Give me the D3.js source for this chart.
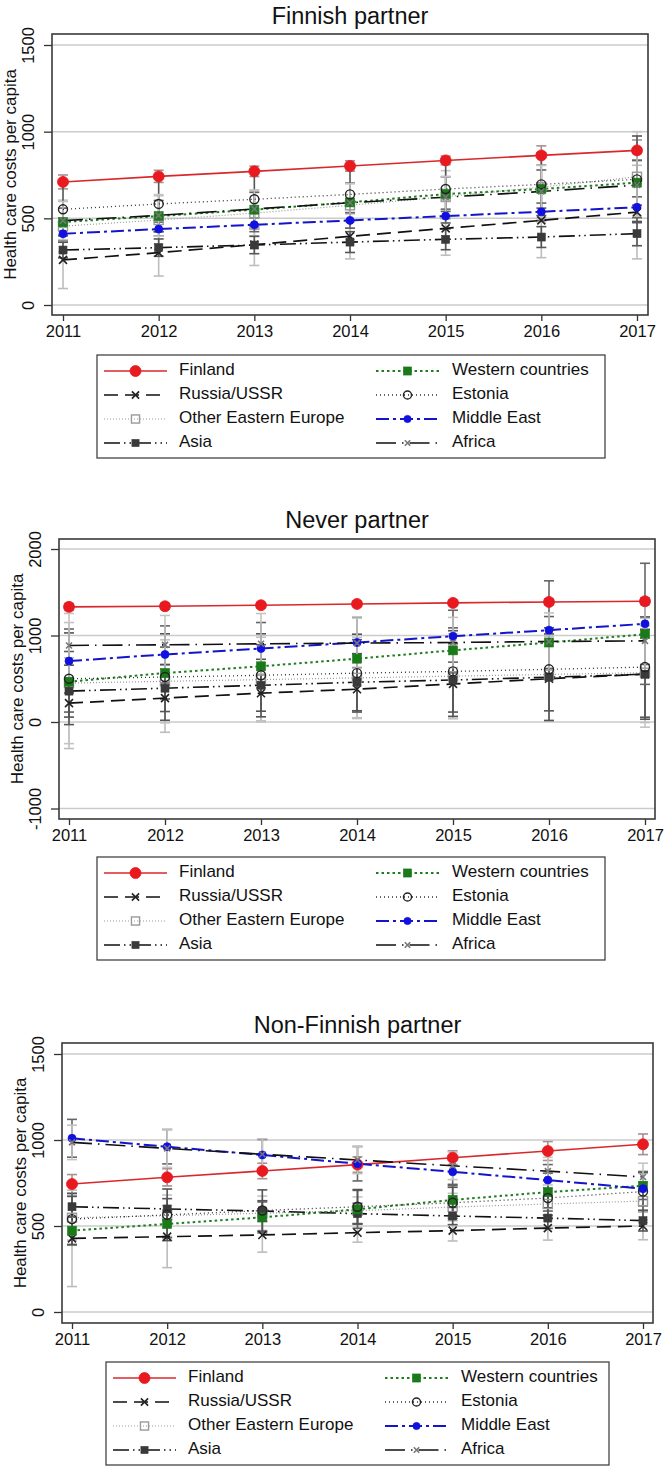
<!DOCTYPE html>
<html><head><meta charset="utf-8">
<script src="https://cdn.jsdelivr.net/npm/d3@7"></script>
<style>body{margin:0;background:#fff}svg{display:block}text{font-family:"Liberation Sans",Arial,Helvetica,sans-serif;fill:#111}</style>
</head><body><svg id="c" width="666" height="1468"></svg>
<script>
// ---------- DATA ----------
const years = [2011, 2012, 2013, 2014, 2015, 2016, 2017];
const seriesNames = ["Finland", "Russia/USSR", "Other Eastern Europe", "Asia", "Western countries", "Estonia", "Middle East", "Africa"];
const panelTitles = ["Finnish partner", "Never partner", "Non-Finnish partner"];
const yAxisTitle = "Health care costs per capita";
const yTicksP1 = [0, 500, 1000, 1500];
const yTicksP2 = [-1000, 0, 1000, 2000];
const yTicksP3 = [0, 500, 1000, 1500];

// Panel 1: Finnish partner (estimates)
const p1Finland   = [710, 742, 771, 802, 834, 863, 892];
const p1Russia    = [260, 302, 348, 396, 442, 488, 536];
const p1OEE       = [455, 490, 530, 575, 625, 680, 740];
const p1Asia      = [317, 331, 346, 363, 379, 392, 412];
const p1Western   = [479, 513, 550, 592, 640, 669, 706];
const p1Estonia   = [552, 583, 610, 638, 669, 696, 725];
const p1MidEast   = [411, 438, 463, 488, 513, 538, 564];
const p1Africa    = [487, 517, 554, 590, 622, 655, 692];
// half-widths of confidence intervals
const p1FinlandCI = [40, 35, 30, 30, 25, 55, 60];
const p1RussiaCI  = [165, 135, 120, 130, 155, 215, 270];
const p1OEECI     = [150, 140, 130, 130, 150, 200, 260];
const p1AsiaCI    = [45, 50, 50, 60, 60, 60, 70];
const p1WesternCI = [80, 90, 100, 110, 100, 110, 130];
const p1EstoniaCI = [150, 160, 170, 150, 170, 180, 250];
const p1MidEastCI = [40, 40, 40, 45, 40, 50, 60];
const p1AfricaCI  = [110, 120, 110, 110, 120, 150, 180];

// Panel 2: Never partner
const p2Finland   = [1331, 1338, 1350, 1365, 1377, 1388, 1396];
const p2Russia    = [218, 276, 333, 379, 440, 500, 554];
const p2OEE       = [450, 470, 490, 510, 530, 550, 570];
const p2Asia      = [357, 391, 425, 460, 485, 518, 552];
const p2Western   = [465, 566, 644, 732, 828, 919, 1015];
const p2Estonia   = [500, 520, 540, 565, 585, 609, 635];
const p2MidEast   = [705, 781, 850, 919, 992, 1062, 1135];
const p2Africa    = [885, 892, 904, 912, 919, 931, 938];
const p2FinlandCI = [40, 35, 30, 30, 30, 35, 40];
const p2RussiaCI  = [525, 395, 320, 330, 400, 490, 560];
const p2OEECI     = [700, 480, 490, 470, 490, 540, 630];
const p2AsiaCI    = [300, 270, 300, 330, 420, 500, 520];
const p2WesternCI = [350, 300, 250, 220, 260, 300, 350];
const p2EstoniaCI = [530, 500, 480, 450, 470, 480, 580];
const p2MidEastCI = [370, 330, 300, 290, 300, 570, 700];
const p2AfricaCI  = [370, 340, 350, 290, 290, 330, 420];

// Panel 3: Non-Finnish partner
const p3Finland   = [744, 783, 820, 857, 897, 936, 975];
const p3Russia    = [428, 438, 448, 461, 473, 488, 500];
const p3OEE       = [548, 560, 574, 589, 610, 628, 645];
const p3Asia      = [612, 599, 587, 572, 558, 546, 531];
const p3Western   = [473, 512, 550, 597, 652, 697, 734];
const p3Estonia   = [540, 565, 590, 612, 635, 663, 700];
const p3MidEast   = [1010, 961, 913, 862, 815, 767, 717];
const p3Africa    = [986, 951, 917, 884, 850, 819, 785];
const p3FinlandCI = [55, 50, 45, 45, 40, 55, 60];
const p3RussiaCI  = [280, 180, 100, 55, 60, 70, 80];
const p3OEECI     = [130, 120, 100, 80, 80, 90, 110];
const p3AsiaCI    = [60, 60, 60, 60, 50, 60, 60];
const p3WesternCI = [80, 80, 90, 110, 90, 110, 80];
const p3EstoniaCI = [150, 150, 120, 100, 90, 100, 110];
const p3MidEastCI = [110, 100, 90, 100, 80, 90, 100];
const p3AfricaCI  = [100, 110, 90, 80, 80, 80, 80];

const panelValues = [
  [p1Finland, p1Russia, p1OEE, p1Asia, p1Western, p1Estonia, p1MidEast, p1Africa],
  [p2Finland, p2Russia, p2OEE, p2Asia, p2Western, p2Estonia, p2MidEast, p2Africa],
  [p3Finland, p3Russia, p3OEE, p3Asia, p3Western, p3Estonia, p3MidEast, p3Africa]
];
const panelCIs = [
  [p1FinlandCI, p1RussiaCI, p1OEECI, p1AsiaCI, p1WesternCI, p1EstoniaCI, p1MidEastCI, p1AfricaCI],
  [p2FinlandCI, p2RussiaCI, p2OEECI, p2AsiaCI, p2WesternCI, p2EstoniaCI, p2MidEastCI, p2AfricaCI],
  [p3FinlandCI, p3RussiaCI, p3OEECI, p3AsiaCI, p3WesternCI, p3EstoniaCI, p3MidEastCI, p3AfricaCI]
];
const panelTicks = [yTicksP1, yTicksP2, yTicksP3];

// ---------- STYLES / LAYOUT ----------
const styles = [
  {color: "#d8282c", dash: null, width: 1.6, marker: "circle", size: 5.5, fill: "#e8191f", stroke: "#e8191f", ci: "#a89090"},
  {color: "#111", dash: "14,7", width: 1.7, marker: "x", size: 4, fill: "none", stroke: "#222", ci: "#bdbdbd"},
  {color: "#999", dash: "1,2", width: 1.2, marker: "squareOpen", size: 4.5, fill: "#fff", stroke: "#9a9a9a", ci: "#c4c4c4"},
  {color: "#111", dash: "16,4,1.5,4,1.5,4", width: 1.6, marker: "square", size: 4, fill: "#3a3a3a", stroke: "#3a3a3a", ci: "#555"},
  {color: "#1e7d1e", dash: "2.5,3", width: 2, marker: "square", size: 4.5, fill: "#1a7a1a", stroke: "#1a7a1a", ci: "#606060"},
  {color: "#333", dash: "1,3", width: 1.3, marker: "circleOpen", size: 4.5, fill: "none", stroke: "#222", ci: "#555"},
  {color: "#1414c8", dash: "13,4,3,4", width: 2, marker: "circle", size: 4, fill: "#1010e0", stroke: "#1010e0", ci: "#666"},
  {color: "#111", dash: "20,6,1.5,6", width: 1.6, marker: "x", size: 3, fill: "none", stroke: "#777", ci: "#c4c4c4"}
];

const layouts = [
  {left: 52, right: 648, top: 34, bottom: 315, x0: 63, x1: 637, yd: [0, 1500], yr: [305, 45], titleY: 24, lg: {x: 97, y: 355, w: 508}},
  {left: 59, right: 655, top: 539, bottom: 819, x0: 69, x1: 645, yd: [0, 2000], yr: [722, 549], titleY: 528, lg: {x: 97, y: 857, w: 508}},
  {left: 62, right: 653, top: 1043, bottom: 1323, x0: 72, x1: 643, yd: [0, 1500], yr: [1312, 1054], titleY: 1033, lg: {x: 106, y: 1362, w: 503}}
];

const svg = d3.select("#c");

function drawMarker(g, st, cx, cy, scale) {
  const s = st.size * (scale || 1);
  if (st.marker === "circle") {
    g.append("circle").attr("cx", cx).attr("cy", cy).attr("r", s).attr("fill", st.fill).attr("stroke", st.stroke).attr("stroke-width", 0.8);
  } else if (st.marker === "circleOpen") {
    g.append("circle").attr("cx", cx).attr("cy", cy).attr("r", s).attr("fill", "none").attr("stroke", st.stroke).attr("stroke-width", 1.4);
  } else if (st.marker === "square") {
    g.append("rect").attr("x", cx - s).attr("y", cy - s).attr("width", 2 * s).attr("height", 2 * s).attr("fill", st.fill).attr("stroke", st.stroke).attr("stroke-width", 0.6);
  } else if (st.marker === "squareOpen") {
    g.append("rect").attr("x", cx - s).attr("y", cy - s).attr("width", 2 * s).attr("height", 2 * s).attr("fill", "none").attr("stroke", st.stroke).attr("stroke-width", 1.4);
  } else if (st.marker === "x") {
    g.append("path").attr("d", `M${cx - s},${cy - s}L${cx + s},${cy + s}M${cx - s},${cy + s}L${cx + s},${cy - s}`)
      .attr("stroke", st.stroke).attr("stroke-width", 1.6).attr("fill", "none");
  }
}

layouts.forEach((L, pi) => {
  const g = svg.append("g");
  const x = d3.scalePoint().domain(years).range([L.x0, L.x1]);
  const y = d3.scaleLinear().domain(L.yd).range(L.yr);
  const ticks = panelTicks[pi];
  const cx = (L.left + L.right) / 2;

  // title
  g.append("text").attr("x", cx).attr("y", L.titleY).attr("text-anchor", "middle")
    .attr("font-size", 23.5).text(panelTitles[pi]);

  // grid
  g.selectAll(".grid").data(ticks).enter().append("line")
    .attr("x1", L.left).attr("x2", L.right)
    .attr("y1", d => y(d)).attr("y2", d => y(d))
    .attr("stroke", "#cbcbcb").attr("stroke-width", 1.5);

  // y axis (ticks + rotated labels)
  const yAxis = d3.axisLeft(y).tickValues(ticks).tickSize(8).tickPadding(6).tickFormat(d => String(d));
  const ya = g.append("g").attr("transform", `translate(${L.left},0)`).call(yAxis);
  ya.select(".domain").remove();
  ya.selectAll(".tick line").attr("stroke", "#333").attr("stroke-width", 1.3);
  ya.selectAll(".tick text").attr("font-size", 16.5).attr("fill", "#111")
    .attr("font-family", '"Liberation Sans",Arial,sans-serif')
    .attr("text-anchor", "middle").attr("dy", null).attr("x", null)
    .attr("transform", "translate(-22,0) rotate(-90)").attr("y", 0).attr("dominant-baseline", "middle");

  // x axis
  const xAxis = d3.axisBottom(x).tickSize(6).tickPadding(4);
  const xa = g.append("g").attr("transform", `translate(0,${L.bottom})`).call(xAxis);
  xa.select(".domain").remove();
  xa.selectAll(".tick line").attr("stroke", "#333").attr("stroke-width", 1.3);
  xa.selectAll(".tick text").attr("font-size", 16.5).attr("fill", "#111")
    .attr("font-family", '"Liberation Sans",Arial,sans-serif');

  // y axis title
  g.append("text").attr("transform", `translate(${L.left - 40},${(L.top + L.bottom) / 2}) rotate(-90)`)
    .attr("text-anchor", "middle").attr("dominant-baseline", "middle").attr("font-size", 17).text(yAxisTitle);

  // clip
  const clipId = "clip" + pi;
  svg.append("clipPath").attr("id", clipId).append("rect")
    .attr("x", L.left).attr("y", L.top).attr("width", L.right - L.left).attr("height", L.bottom - L.top);
  const plot = g.append("g").attr("clip-path", `url(#${clipId})`);

  const vals = panelValues[pi], cis = panelCIs[pi];
  // CI bars
  vals.forEach((arr, si) => {
    const st = styles[si];
    arr.forEach((v, i) => {
      const px = x(years[i]), lo = y(v - cis[si][i]), hi = y(v + cis[si][i]);
      plot.append("line").attr("x1", px).attr("x2", px).attr("y1", lo).attr("y2", hi).attr("stroke", st.ci).attr("stroke-width", 1.6);
      [lo, hi].forEach(yy => plot.append("line").attr("x1", px - 5).attr("x2", px + 5).attr("y1", yy).attr("y2", yy).attr("stroke", st.ci).attr("stroke-width", 1.6));
    });
  });
  // lines
  const line = d3.line().x((d, i) => x(years[i])).y(d => y(d));
  vals.forEach((arr, si) => {
    const st = styles[si];
    plot.append("path").attr("d", line(arr)).attr("fill", "none").attr("stroke", st.color)
      .attr("stroke-width", st.width).attr("stroke-dasharray", st.dash);
  });
  // markers
  vals.forEach((arr, si) => {
    arr.forEach((v, i) => drawMarker(plot, styles[si], x(years[i]), y(v)));
  });

  // frame
  g.append("rect").attr("x", L.left).attr("y", L.top).attr("width", L.right - L.left).attr("height", L.bottom - L.top)
    .attr("fill", "none").attr("stroke", "#3a3a3a").attr("stroke-width", 1.6);

  // legend
  const lg = g.append("g").attr("transform", `translate(${L.lg.x},${L.lg.y})`);
  lg.append("rect").attr("x", 0).attr("y", 0).attr("width", L.lg.w).attr("height", 103)
    .attr("fill", "#fff").attr("stroke", "#444").attr("stroke-width", 1.3);
  seriesNames.forEach((name, si) => {
    const col = si < 4 ? 0 : 1, row = si % 4;
    const ly = 16 + row * 24;
    const lx0 = col === 0 ? 7 : 279, lx1 = col === 0 ? 70 : 342;
    const st = styles[si];
    lg.append("line").attr("x1", lx0).attr("x2", lx1).attr("y1", ly).attr("y2", ly)
      .attr("stroke", st.color).attr("stroke-width", st.width).attr("stroke-dasharray", st.dash);
    drawMarker(lg, st, (lx0 + lx1) / 2, ly, st.marker === "circle" && si === 0 ? 1 : 0.9);
    lg.append("text").attr("x", col === 0 ? 82 : 355).attr("y", ly).attr("dominant-baseline", "middle")
      .attr("font-size", 17).text(name);
  });
});
</script></body></html>
